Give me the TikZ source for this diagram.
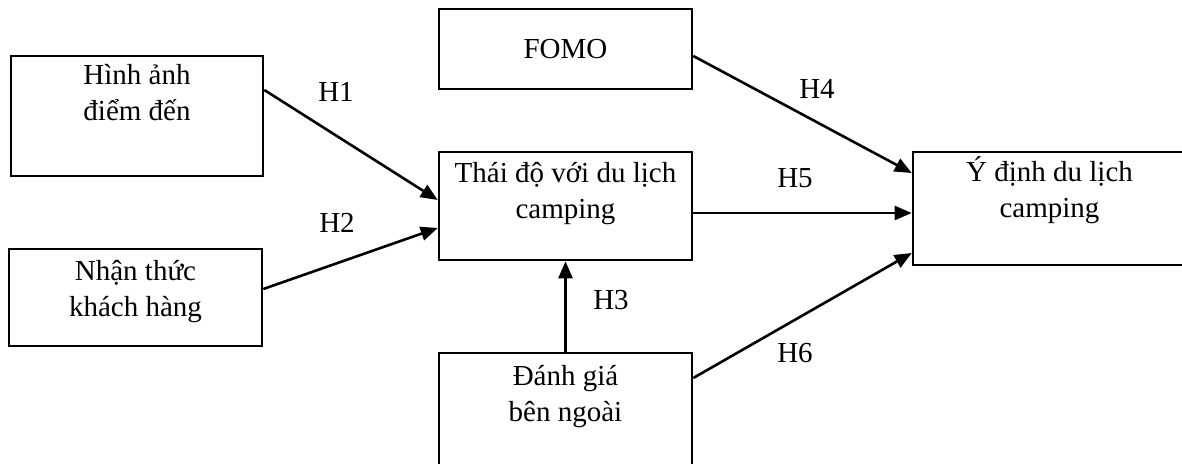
\documentclass[tikz,border=0pt]{standalone}
\usepackage{fontspec}
\setmainfont{Liberation Serif}
\usetikzlibrary{arrows.meta}

\begin{document}
\begin{tikzpicture}[x=1pt,y=1pt]
\tikzset{box/.style = {shape=rectangle,draw,line width=2.6pt,inner sep=0pt}}
\tikzset{boxtext/.style = {anchor=north,align=center,inner sep=0pt,
  font=\fontsize{29}{36}\selectfont}}
\tikzset{edge/.style = {-{Triangle[length=17pt,width=14pt]},line width=2.6pt}}
\tikzset{hyp/.style = {inner sep=0pt,font=\fontsize{29}{36}\selectfont}}
\useasboundingbox (0,0) rectangle (1182,463);
% boxes
\node[box, minimum width=252pt, minimum height=120pt,
  label={[boxtext,yshift=-9pt]north:{Hình ảnh\\điểm đến}}] (hinh) at (137,347) {};
\node[box, minimum width=253pt, minimum height=97pt,
  label={[boxtext,yshift=-12pt]north:{Nhận thức\\khách hàng}}] (nhan) at (135.5,165.5) {};
\node[box, minimum width=253pt, minimum height=80pt,
  font=\fontsize{29}{36}\selectfont] (fomo) at (565.5,414) {FOMO};
\node[box, minimum width=253pt, minimum height=108pt,
  label={[boxtext,yshift=-11pt]north:{Thái độ với du lịch\\camping}}] (thaido) at (565.5,257) {};
\node[box, minimum width=253pt, minimum height=140pt,
  label={[boxtext,yshift=-13pt]north:{Đánh giá\\bên ngoài}}] (danhgia) at (565.5,40) {};
\node[box, minimum width=273pt, minimum height=113pt,
  label={[boxtext,yshift=-6pt]north:{Ý định du lịch\\camping}}] (ydinh) at (1049.5,254.5) {};
% edges
\draw[edge] ([yshift=26pt]hinh.east) -- ([yshift=6pt]thaido.west);
\draw[edge] ([yshift=8.5pt]nhan.east) -- ([yshift=-22pt]thaido.west);
\draw[edge] (danhgia.north) -- (thaido.south);
\draw[edge] ([yshift=-7pt]fomo.east) -- ([yshift=35.5pt]ydinh.west);
\draw[edge] ([yshift=-7pt]thaido.east) -- ([yshift=-4.5pt]ydinh.west);
\draw[edge] ([yshift=45pt]danhgia.east) -- ([yshift=-44.5pt]ydinh.west);
% labels
\node[hyp] (h1) at (336,371) {H1};
\node[hyp] (h2) at (337,240) {H2};
\node[hyp] (h3) at (611,163) {H3};
\node[hyp] (h4) at (817,374) {H4};
\node[hyp] (h5) at (795,285) {H5};
\node[hyp] (h6) at (795,110) {H6};
\end{tikzpicture}
\end{document}
